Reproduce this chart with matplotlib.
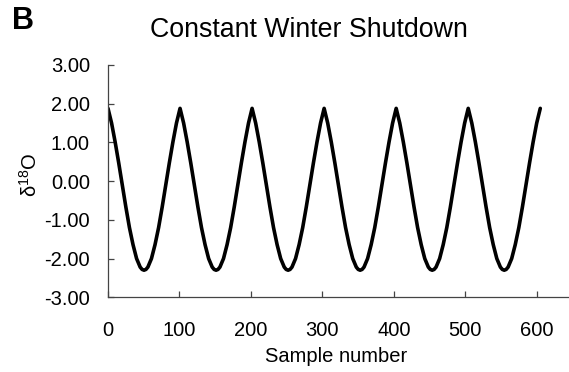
import matplotlib
matplotlib.use("Agg")
import matplotlib.pyplot as plt

plt.rcParams['font.family'] = ['Liberation Sans', 'DejaVu Sans']
plt.rcParams['mathtext.default'] = 'regular'

title = "Constant Winter Shutdown"
panel_label = "B"
x_label = "Sample number"
y_label = "δ$^{18}$O"
x_ticks = [0, 100, 200, 300, 400, 500, 600]
y_ticks = [3.0, 2.0, 1.0, 0.0, -1.0, -2.0, -3.0]
y_tick_labels = ["3.00", "2.00", "1.00", "0.00", "-1.00", "-2.00", "-3.00"]

sample_number = [
    0, 5, 10, 15, 20, 25, 30, 35, 40, 45, 47.7, 50.4, 53.1, 55.8, 60.8, 65.8, 70.8, 75.8, 80.8, 85.8, 90.8, 95.8,
    100.8, 105.8, 110.8, 115.8, 120.8, 125.8, 130.8, 135.8, 140.8, 145.8, 148.5, 151.2, 153.9, 156.6, 161.6, 166.6, 171.6, 176.6, 181.6, 186.6, 191.6, 196.6,
    201.6, 206.6, 211.6, 216.6, 221.6, 226.6, 231.6, 236.6, 241.6, 246.6, 249.3, 252.0, 254.7, 257.4, 262.4, 267.4, 272.4, 277.4, 282.4, 287.4, 292.4, 297.4,
    302.4, 307.4, 312.4, 317.4, 322.4, 327.4, 332.4, 337.4, 342.4, 347.4, 350.1, 352.8, 355.5, 358.2, 363.2, 368.2, 373.2, 378.2, 383.2, 388.2, 393.2, 398.2,
    403.2, 408.2, 413.2, 418.2, 423.2, 428.2, 433.2, 438.2, 443.2, 448.2, 450.9, 453.6, 456.3, 459.0, 464.0, 469.0, 474.0, 479.0, 484.0, 489.0, 494.0, 499.0,
    504.0, 509.0, 514.0, 519.0, 524.0, 529.0, 534.0, 539.0, 544.0, 549.0, 551.7, 554.4, 557.1, 559.8, 564.8, 569.8, 574.8, 579.8, 584.8, 589.8, 594.8, 599.8,
    604.8,
]

d18o = [
    1.88, 1.50, 1.01, 0.47, -0.10, -0.67, -1.20, -1.64, -2.00, -2.22, -2.28, -2.30, -2.28, -2.22, -2.00, -1.64, -1.20, -0.67, -0.10, 0.47, 1.01, 1.50,
    1.88, 1.50, 1.01, 0.47, -0.10, -0.67, -1.20, -1.64, -2.00, -2.22, -2.28, -2.30, -2.28, -2.22, -2.00, -1.64, -1.20, -0.67, -0.10, 0.47, 1.01, 1.50,
    1.88, 1.50, 1.01, 0.47, -0.10, -0.67, -1.20, -1.64, -2.00, -2.22, -2.28, -2.30, -2.28, -2.22, -2.00, -1.64, -1.20, -0.67, -0.10, 0.47, 1.01, 1.50,
    1.88, 1.50, 1.01, 0.47, -0.10, -0.67, -1.20, -1.64, -2.00, -2.22, -2.28, -2.30, -2.28, -2.22, -2.00, -1.64, -1.20, -0.67, -0.10, 0.47, 1.01, 1.50,
    1.88, 1.50, 1.01, 0.47, -0.10, -0.67, -1.20, -1.64, -2.00, -2.22, -2.28, -2.30, -2.28, -2.22, -2.00, -1.64, -1.20, -0.67, -0.10, 0.47, 1.01, 1.50,
    1.88, 1.50, 1.01, 0.47, -0.10, -0.67, -1.20, -1.64, -2.00, -2.22, -2.28, -2.30, -2.28, -2.22, -2.00, -1.64, -1.20, -0.67, -0.10, 0.47, 1.01, 1.50,
    1.88,
]

W, H = 569, 372
fig = plt.figure(figsize=(W / 100, H / 100), dpi=100)
ax = fig.add_axes([108 / W, 1 - 297.3 / H, (569 - 108) / W, (297.3 - 65) / H])

ax.plot(sample_number, d18o, color="black", lw=2.6, solid_joinstyle="round", solid_capstyle="round")

ax.set_xlim(0, 645)
ax.set_ylim(-3, 3)
ax.set_xticks(x_ticks)
ax.set_xticklabels([str(t) for t in x_ticks])
ax.set_yticks(y_ticks)
ax.set_yticklabels(y_tick_labels)

for side in ("top", "right"):
    ax.spines[side].set_visible(False)
for side in ("left", "bottom"):
    ax.spines[side].set_color("#444444")
    ax.spines[side].set_linewidth(0.9)

ax.tick_params(axis="both", direction="in", length=4, width=0.9, color="#444444",
               labelsize=14.5, labelcolor="black")
ax.tick_params(axis="y", pad=13)
ax.tick_params(axis="x", pad=17)

fig.text(309 / W, 1 - 37 / H, title, ha="center", va="baseline", fontsize=19.3)
fig.text(12 / W, 1 - 29 / H, panel_label, ha="left", va="baseline", fontsize=22, fontweight="bold")
fig.text(336 / W, 1 - 361.5 / H, x_label, ha="center", va="baseline", fontsize=14.5)
fig.text(30 / W, 1 - 175 / H, y_label, ha="center", va="center", rotation=90, fontsize=14.5)

fig.savefig("out.png", dpi=100)
